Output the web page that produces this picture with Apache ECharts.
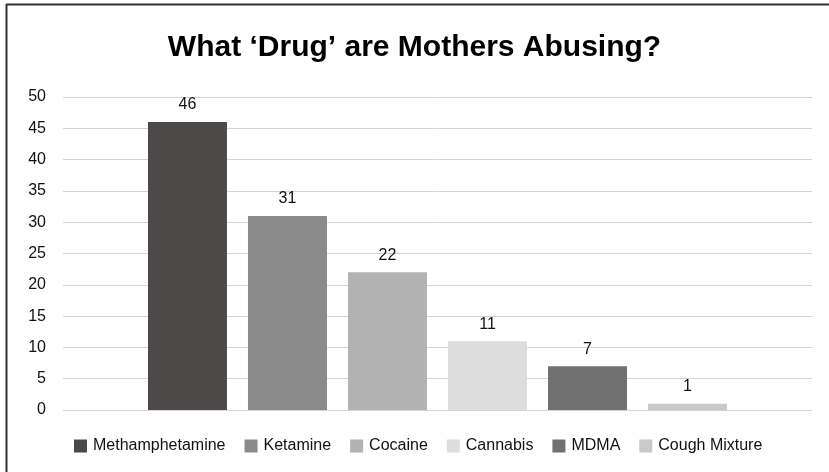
<!DOCTYPE html>
<html><head><meta charset="utf-8">
<script src="https://cdn.jsdelivr.net/npm/echarts@6/dist/echarts.min.js"></script>
<style>html,body{margin:0;padding:0;background:#fff}#c{width:829px;height:472px}</style>
</head><body><div id="c"></div>
<script>
const titleText = "What \u2018Drug\u2019 are Mothers Abusing?";
const drugs = ["Methamphetamine", "Ketamine", "Cocaine", "Cannabis", "MDMA", "Cough Mixture"];
const counts = [46, 31, 22, 11, 7, 1];
const colors = ["#4d4948", "#8a8a8a", "#b3b3b3", "#dcdddc", "#717171", "#c8c9c8"];
const yTicks = { min: 0, max: 50, interval: 5 };

const chart = echarts.init(document.getElementById('c'));
const font = "'Liberation Sans', Helvetica, Arial, sans-serif";
chart.setOption({
  animation: false,
  textStyle: { fontFamily: font },
  title: { text: titleText, left: 'center', top: 28,
    textStyle: { fontFamily: font, fontSize: 30, fontWeight: 'bold', color: '#000' } },
  legend: { left: 74, top: 438, padding: 0, itemWidth: 13, itemHeight: 13, itemGap: 19, icon: 'rect',
    textStyle: { fontFamily: font, fontSize: 16, color: '#111', padding: [0, 0, 0, 1] },
    data: drugs },
  grid: { left: 63, right: 17, top: 97, bottom: 62, containLabel: false },
  xAxis: { type: 'category', data: [''], axisLine: { show: false }, axisTick: { show: false }, axisLabel: { show: false } },
  yAxis: { type: 'value', min: yTicks.min, max: yTicks.max, interval: yTicks.interval,
    axisLine: { show: false }, axisTick: { show: false },
    axisLabel: { fontFamily: font, fontSize: 16, color: '#111', margin: 17 },
    splitLine: { lineStyle: { color: '#d4d4d4', width: 1 } } },
  graphic: [
    { type: 'line', shape: { x1: 6.5, y1: 4, x2: 6.5, y2: 472 }, style: { stroke: '#333', lineWidth: 2 } },
    { type: 'line', shape: { x1: 6, y1: 4.5, x2: 829, y2: 4.5 }, style: { stroke: '#333', lineWidth: 2 } }
  ],
  series: drugs.map((d, i) => ({
    name: d, type: 'bar', data: [counts[i]], barWidth: 79, barGap: '26.6%',
    itemStyle: { color: colors[i] },
    label: { show: true, position: 'top', distance: 9, fontFamily: font, fontSize: 16, color: '#111' }
  }))
});
</script></body></html>
